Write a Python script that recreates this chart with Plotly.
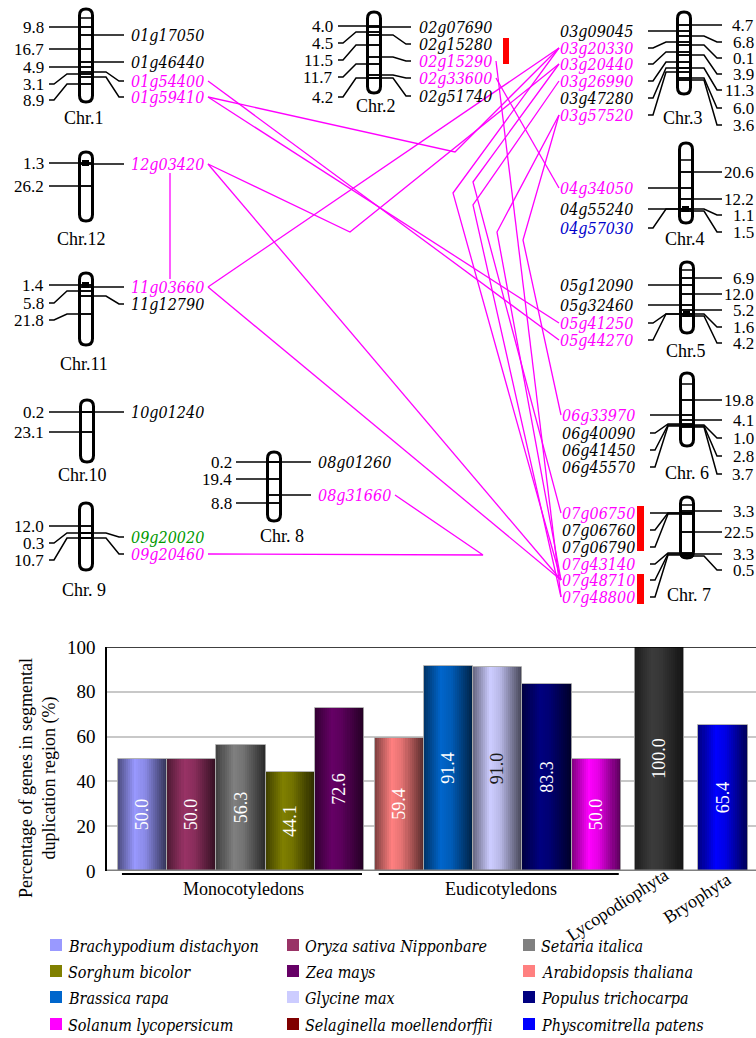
import numpy as np
import plotly.graph_objects as go

SERIF = "Liberation Serif"
ITAL = "DejaVu Serif Condensed, DejaVu Serif, serif"
MAG = "#ff00ff"
COLMAP = {"k": "black", "m": MAG, "b": "#0000cc", "g": "#009900"}

# ---------------- bar chart data ----------------
species = ["Brachypodium distachyon", "Oryza sativa Nipponbare", "Setaria italica",
           "Sorghum bicolor", "Zea mays", "Arabidopsis thaliana",
           "Brassica rapa", "Glycine max", "Populus trichocarpa",
           "Solanum lycopersicum", "Selaginella moellendorffii", "Physcomitrella patens"]
percent = [50.0, 50.0, 56.3, 44.1, 72.6, 59.4, 91.4, 91.0, 83.3, 50.0, 100.0, 65.4]
groups = ["Monocotyledons"] * 5 + ["Eudicotyledons"] * 5 + ["Lycopodiophyta", "Bryophyta"]
legend_colors = ["#9999ff", "#993366", "#808080", "#808000", "#660066", "#ff8080",
                 "#0066cc", "#ccccff", "#000080", "#ff00ff", "#800000", "#0000ff"]
bar_colors = ["#9999ff", "#993366", "#808080", "#808000", "#660066", "#ff8080",
              "#0066cc", "#ccccff", "#000080", "#ff00ff", "#3c3c3c", "#0000ff"]
value_text_colors = ["white"] * 7 + ["#1a1a1a"] + ["white"] * 4
y_ticks = [0, 20, 40, 60, 80, 100]
group_gap = {"Eudicotyledons": 0.22, "Lycopodiophyta": 0.28, "Bryophyta": 0.30}

# ---------------- chromosome diagram data ----------------
chrom_names = ["Chr.1", "Chr.2", "Chr.3", "Chr.4", "Chr.5", "Chr. 6", "Chr. 7",
               "Chr.12", "Chr.11", "Chr.10", "Chr. 9", "Chr. 8"]
chrom_cx = [86, 374, 684, 686, 687, 687, 687, 86, 86, 87, 86, 274]
chrom_top = [9, 12, 12, 143, 262, 373, 497, 152, 273, 400, 503, 452]
chrom_bot = [102, 93, 94, 223, 333, 446, 558, 221, 345, 462, 570, 521]
chrom_label_x = [84, 376, 683, 685, 686, 687, 689, 81, 84, 82, 84, 282]
chrom_label_y = [118, 106, 118, 239, 351, 473, 595, 239, 364, 475, 590, 536]
gene_side = ["R", "R", "L", "L", "L", "L", "L", "R", "R", "R", "R", "R"]
gene_text_x = [130, 418, 634, 634, 634, 636, 636, 130, 130, 130, 130, 317]
gene_line_end = [124, 411, 648, 648, 648, 650, 650, 124, 124, 124, 124, 311]
dist_side = ["L", "L", "R", "R", "R", "R", "R", "L", "L", "L", "L", "L"]
dist_text_x = [45, 334, 755, 755, 755, 755, 755, 45, 45, 45, 45, 233]
dist_line_end = [49, 338, 722, 722, 722, 722, 722, 49, 49, 49, 49, 236]

# genes: chromosome index, name, colour key, label y, attach y
genes = [
    (0, "01g17050", "k", 35, 35), (0, "01g46440", "k", 62, 62),
    (0, "01g54400", "m", 81, 72), (0, "01g59410", "m", 97, 77),
    (1, "02g07690", "k", 27, 27), (1, "02g15280", "k", 44, 35),
    (1, "02g15290", "m", 61, 57), (1, "02g33600", "m", 78, 75),
    (1, "02g51740", "k", 96, 78),
    (2, "03g09045", "k", 31, 31), (2, "03g20330", "m", 48, 42),
    (2, "03g20440", "m", 64, 52), (2, "03g26990", "m", 81, 62),
    (2, "03g47280", "k", 98, 68), (2, "03g57520", "m", 115, 72),
    (3, "04g34050", "m", 188, 188), (3, "04g55240", "k", 209, 209),
    (3, "04g57030", "b", 228, 209),
    (4, "05g12090", "k", 285, 285), (4, "05g32460", "k", 305, 305),
    (4, "05g41250", "m", 323, 314), (4, "05g44270", "m", 340, 314),
    (5, "06g33970", "m", 415, 415), (5, "06g40090", "k", 433, 424),
    (5, "06g41450", "k", 450, 425), (5, "06g45570", "k", 467, 426),
    (6, "07g06750", "m", 513, 513), (6, "07g06760", "k", 530, 513),
    (6, "07g06790", "k", 547, 514), (6, "07g43140", "m", 564, 553),
    (6, "07g48710", "m", 580, 554), (6, "07g48800", "m", 597, 555),
    (7, "12g03420", "m", 164, 164),
    (8, "11g03660", "m", 287, 287), (8, "11g12790", "k", 304, 296),
    (9, "10g01240", "k", 412, 412),
    (10, "09g20020", "g", 537, 533), (10, "09g20460", "m", 554, 538),
    (11, "08g01260", "k", 462, 462), (11, "08g31660", "m", 495, 495),
]
# distances: chromosome index, text, label y, attach y
dists = [
    (0, "9.8", 27, 27), (0, "16.7", 49, 49), (0, "4.9", 67, 67), (0, "3.1", 84, 74), (0, "8.9", 100, 84),
    (1, "4.0", 26, 26), (1, "4.5", 43, 32), (1, "11.5", 60, 45), (1, "11.7", 77, 64), (1, "4.2", 97, 78),
    (2, "4.7", 25, 25), (2, "6.8", 42, 36), (2, "0.1", 58, 45), (2, "3.9", 74, 55),
    (2, "11.3", 90, 68), (2, "6.0", 108, 78), (2, "3.6", 125, 80),
    (3, "20.6", 172, 172), (3, "12.2", 199, 199), (3, "1.1", 215, 209), (3, "1.5", 232, 211),
    (4, "6.9", 278, 278), (4, "12.0", 294, 294), (4, "5.2", 310, 310), (4, "1.6", 327, 314), (4, "4.2", 343, 316),
    (5, "19.8", 400, 400), (5, "4.1", 420, 420), (5, "1.0", 438, 425), (5, "2.8", 456, 426), (5, "3.7", 474, 427),
    (6, "3.3", 511, 511), (6, "22.5", 532, 532), (6, "3.3", 554, 554), (6, "0.5", 570, 556),
    (7, "1.3", 163, 163), (7, "26.2", 186, 186),
    (8, "1.4", 285, 285), (8, "5.8", 303, 291), (8, "21.8", 320, 314),
    (9, "0.2", 412, 412), (9, "23.1", 432, 432),
    (10, "12.0", 526, 526), (10, "0.3", 543, 533), (10, "10.7", 560, 538),
    (11, "0.2", 462, 462), (11, "19.4", 479, 479), (11, "8.8", 503, 503),
]
extra_ticks = [(0, 18), (3, 160), (5, 384), (6, 505), (4, 270)]
dots = [(7, 163), (8, 285), (3, 209), (4, 314)]
# segmental duplication links: gene, optional bend point, gene
links = [
    ("01g54400", None, "05g44270"),
    ("01g59410", None, "05g41250"),
    ("01g59410", (455, 152), "03g20330"),
    ("12g03420", (350, 232), "03g20440"),
    ("12g03420", None, "07g48710"),
    ("11g03660", None, "03g20330"),
    ("11g03660", None, "07g48710"),
    ("02g33600", None, "04g34050"),
    ("02g15290", None, "07g48800"),
    ("03g20330", (453, 193), "07g48710"),
    ("03g20440", (473, 182), "07g06750"),
    ("03g26990", (473, 205), "07g48800"),
    ("03g57520", (497, 232), "07g48710"),
    ("03g57520", (523, 240), "06g33970"),
    ("08g31660", (483, 555), "09g20460"),
]
vertical_links = [("12g03420", "11g03660")]
tandem_bars = [(503, 38, 509, 64), (637, 506, 644, 551), (637, 574, 644, 604)]

# ---------------- figure ----------------
fig = go.Figure()

pos = []
cur = 0.0
prev = None
for g in groups:
    if prev is not None:
        cur += 1.0
        if g != prev:
            cur += group_gap[g]
    pos.append(cur)
    prev = g


def shade(hexc, f):
    r, g, b = int(hexc[1:3], 16), int(hexc[3:5], 16), int(hexc[5:7], 16)
    return "rgb(%d,%d,%d)" % (r * f, g * f, b * f)


N = 24
prof_t = [0.0, 0.35, 0.55, 1.0]
prof_f = [0.5, 1.0, 0.9, 0.33]
for k in range(N):
    t = (k + 0.5) / N
    f = float(np.interp(t, prof_t, prof_f))
    fig.add_trace(go.Bar(x=[p - 0.5 + t for p in pos], y=percent, width=1.08 / N,
                         marker=dict(color=[shade(c, f) for c in bar_colors], line=dict(width=0)),
                         showlegend=False, hoverinfo="skip", xaxis="x", yaxis="y"))
fig.add_trace(go.Bar(x=pos, y=percent, width=1.0,
                     marker=dict(color="rgba(0,0,0,0)", line=dict(color="rgba(170,170,170,0.9)", width=1)),
                     text=["%.1f" % v for v in percent], textposition="inside",
                     insidetextanchor="middle", textangle=-90, constraintext="none",
                     textfont=dict(family=SERIF, size=18, color=value_text_colors),
                     showlegend=False, hoverinfo="skip", xaxis="x", yaxis="y"))

shapes = []
annotations = []

blk_x, blk_y = [], []
mag_x, mag_y = [], []


def add_poly(xs, ys, pts):
    for (a, b) in pts:
        xs.append(a)
        ys.append(b)
    xs.append(None)
    ys.append(None)


def connector(ci, side, end_x, ly, ay):
    cx = chrom_cx[ci]
    if side == "R":
        sx, el, tail = cx - 7, end_x - 18, end_x - 5
    else:
        sx, el, tail = cx + 7, end_x + 18, end_x + 5
    if ly == ay:
        return [(sx, ay), (end_x, ay)]
    return [(sx, ay), (el, ay), (tail, ly), (end_x, ly)]


anchor = {}
for (ci, name, ck, ly, ay) in genes:
    side = gene_side[ci]
    add_poly(blk_x, blk_y, connector(ci, side, gene_line_end[ci], ly, ay))
    add_poly(blk_x, blk_y, [(chrom_cx[ci] - 6, ay), (chrom_cx[ci] + 7, ay)])
    tx = gene_text_x[ci]
    annotations.append(dict(x=tx, y=ly, xref="x2", yref="y2", text="<i>%s</i>" % name,
                            showarrow=False, xanchor="left" if side == "R" else "right",
                            yanchor="middle", borderpad=0,
                            font=dict(family=ITAL, size=16, color=COLMAP[ck])))
    if side == "R":
        anchor[name] = (tx + 78, ly, tx + 40)
    else:
        anchor[name] = (tx - 75, ly, tx - 38)

for (ci, txt, ly, ay) in dists:
    side = dist_side[ci]
    add_poly(blk_x, blk_y, connector(ci, side, dist_line_end[ci], ly, ay))
    add_poly(blk_x, blk_y, [(chrom_cx[ci] - 6, ay), (chrom_cx[ci] + 7, ay)])
    annotations.append(dict(x=dist_text_x[ci], y=ly, xref="x2", yref="y2", text=txt,
                            showarrow=False, xanchor="right", yanchor="middle", borderpad=0,
                            font=dict(family=SERIF, size=17, color="black")))

for (ci, ty) in extra_ticks:
    add_poly(blk_x, blk_y, [(chrom_cx[ci] - 6, ty), (chrom_cx[ci] + 7, ty)])

for (a, bend, b) in links:
    pa = anchor[a][:2]
    pb = anchor[b][:2]
    pts = [pa] + ([bend] if bend else []) + [pb]
    add_poly(mag_x, mag_y, pts)
for (a, b) in vertical_links:
    xa = anchor[a][2]
    add_poly(mag_x, mag_y, [(xa, anchor[a][1] + 9), (xa, anchor[b][1] - 8)])

fig.add_trace(go.Scatter(x=blk_x, y=blk_y, mode="lines", line=dict(color="black", width=1.5),
                         xaxis="x2", yaxis="y2", showlegend=False, hoverinfo="skip"))
fig.add_trace(go.Scatter(x=mag_x, y=mag_y, mode="lines", line=dict(color=MAG, width=1.3),
                         xaxis="x2", yaxis="y2", showlegend=False, hoverinfo="skip"))

for i, nm in enumerate(chrom_names):
    cx, t, b = chrom_cx[i], chrom_top[i], chrom_bot[i]
    x0, x1, r = cx - 6.5, cx + 6.5, 6.5
    path = ("M %f,%f L %f,%f Q %f,%f %f,%f Q %f,%f %f,%f L %f,%f Q %f,%f %f,%f Q %f,%f %f,%f Z"
            % (x0, t + r, x0, b - r, x0, b, cx, b, x1, b, x1, b - r, x1, t + r,
               x1, t, cx, t, x0, t, x0, t + r))
    shapes.append(dict(type="path", path=path, xref="x2", yref="y2",
                       line=dict(color="black", width=3), fillcolor="rgba(0,0,0,0)"))
    annotations.append(dict(x=chrom_label_x[i], y=chrom_label_y[i], xref="x2", yref="y2", text=nm,
                            showarrow=False, xanchor="center", yanchor="middle",
                            font=dict(family=SERIF, size=18, color="black")))
for (ci, dy) in dots:
    cx = chrom_cx[ci]
    shapes.append(dict(type="rect", x0=cx - 4, x1=cx + 3, y0=dy - 3, y1=dy + 3, xref="x2", yref="y2",
                       line=dict(width=0), fillcolor="black"))
for (xa, ya, xb, yb) in tandem_bars:
    shapes.append(dict(type="rect", x0=xa, x1=xb, y0=ya, y1=yb, xref="x2", yref="y2",
                       line=dict(width=0), fillcolor="red"))

shapes.append(dict(type="line", xref="paper", yref="y", x0=107 / 756, x1=1, y0=0, y1=0,
                   line=dict(color="#808080", width=3)))
shapes.append(dict(type="line", xref="paper", yref="y", x0=107 / 756, x1=1, y0=100, y1=100,
                   line=dict(color="black", width=1.5)))
for gname in ["Monocotyledons", "Eudicotyledons"]:
    idx = [i for i, g in enumerate(groups) if g == gname]
    xa, xb = pos[idx[0]] - 0.42, pos[idx[-1]] + 0.46
    shapes.append(dict(type="line", xref="x", yref="y2", x0=xa, x1=xb, y0=874, y1=874,
                       line=dict(color="black", width=2)))
    annotations.append(dict(x=(pos[idx[0]] + pos[idx[-1]]) / 2 + 0.06, y=889, xref="x", yref="y2",
                            text=gname, showarrow=False, xanchor="center", yanchor="middle",
                            font=dict(family=SERIF, size=18, color="black")))
for gname, dx, yy in [("Lycopodiophyta", -0.85, 905), ("Bryophyta", -0.52, 898)]:
    i = groups.index(gname)
    annotations.append(dict(x=pos[i] + dx, y=yy, xref="x", yref="y2", text=gname, showarrow=False,
                            textangle=-33, xanchor="center", yanchor="middle",
                            font=dict(family=SERIF, size=18, color="black")))
annotations.append(dict(x=38 / 756, y=778, xref="paper", yref="y2",
                        text="Percentage of genes in segmental<br>duplication region (%)",
                        showarrow=False, textangle=-90, xanchor="center", yanchor="middle",
                        font=dict(family=SERIF, size=18, color="black")))

leg_col_x = [50, 287, 523]
leg_row_y = [946, 972, 998, 1025]
for i, (sp, c) in enumerate(zip(species, legend_colors)):
    cx_ = leg_col_x[i % 3]
    cy_ = leg_row_y[i // 3]
    shapes.append(dict(type="rect", xref="x2", yref="y2", x0=cx_, x1=cx_ + 12, y0=cy_ - 7, y1=cy_ + 5,
                       line=dict(width=0), fillcolor=c))
    annotations.append(dict(x=cx_ + 17, y=cy_, xref="x2", yref="y2", text="<i>%s</i>" % sp,
                            showarrow=False, xanchor="left", yanchor="middle", borderpad=0,
                            font=dict(family=ITAL, size=16, color="black")))

fig.update_layout(
    width=756, height=1038, autosize=False,
    margin=dict(l=0, r=0, t=0, b=0, pad=0, autoexpand=False),
    paper_bgcolor="white", plot_bgcolor="rgba(0,0,0,0)",
    barmode="overlay", bargap=0, showlegend=False,
    xaxis=dict(domain=[107 / 756, 1], range=[-0.724, 12.47], visible=False, anchor="y", automargin=False),
    yaxis=dict(domain=[(1038 - 871) / 1038, (1038 - 647) / 1038], range=[0, 100], tickvals=y_ticks,
               showgrid=True, gridcolor="#c8c8c8", gridwidth=1.5, showline=True, linecolor="black",
               linewidth=1.5, ticks="", zeroline=False, ticklabelstandoff=6, automargin=False,
               tickfont=dict(family=SERIF, size=19, color="black"), anchor="x"),
    xaxis2=dict(domain=[0, 1], range=[0, 756], visible=False, anchor="y2", automargin=False),
    yaxis2=dict(domain=[0, 1], range=[1038, 0], visible=False, anchor="x2", automargin=False),
    shapes=shapes, annotations=annotations,
)

fig.write_html("out.html", config={"displayModeBar": False},
               post_script="document.body.style.margin='0px';document.body.style.overflow='hidden';")
